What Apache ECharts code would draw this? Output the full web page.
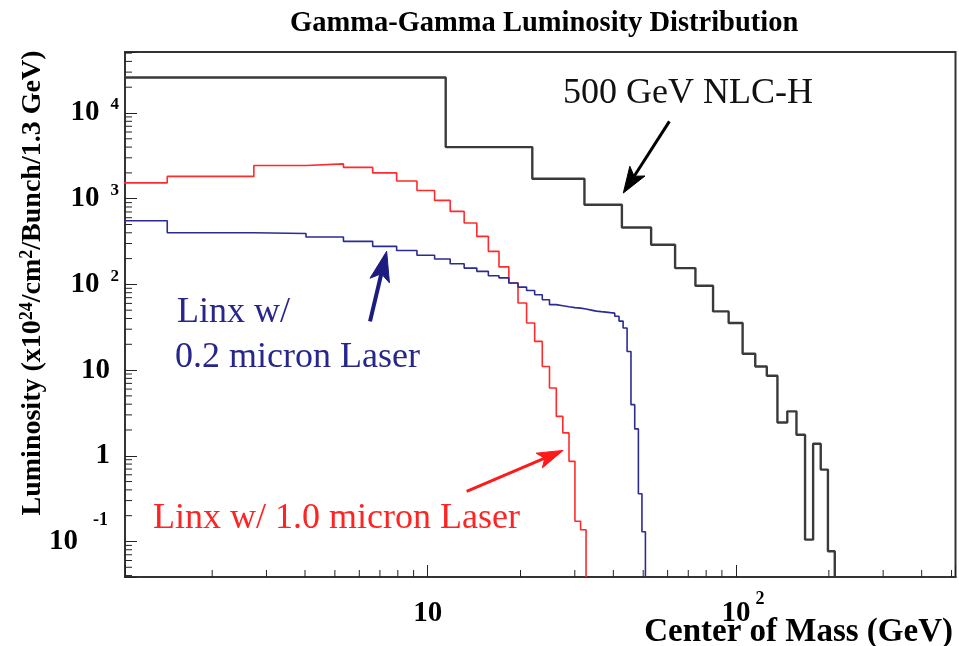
<!DOCTYPE html>
<html>
<head>
<meta charset="utf-8">
<title>Gamma-Gamma Luminosity Distribution</title>
<script src="https://cdn.jsdelivr.net/npm/echarts@6/dist/echarts.min.js"></script>
<style>
  html, body { margin: 0; padding: 0; background: #fff; }
  #chart { width: 959px; height: 646px; }
</style>
</head>
<body>
<div id="chart"></div>
<script>
// ---- axis ranges (log scales) ----
const xRange = [1.043, 515];
const yRange = [0.0385, 51500];

// ---- tick values ----
const xMinorTicks = [2, 3, 4, 5, 6, 7, 8, 9, 20, 30, 40, 50, 60, 70, 80, 90, 200, 300, 400, 500];
const yMinorTicks = [0.04, 0.05, 0.06, 0.07, 0.08, 0.09,
  0.2, 0.3, 0.4, 0.5, 0.6, 0.7, 0.8, 0.9,
  2, 3, 4, 5, 6, 7, 8, 9,
  20, 30, 40, 50, 60, 70, 80, 90,
  200, 300, 400, 500, 600, 700, 800, 900,
  2000, 3000, 4000, 5000, 6000, 7000, 8000, 9000,
  20000, 30000, 40000, 50000];
// tick label text per decade exponent: [base, superscript]
const xTickLabels = { 1: ['10', ''], 2: ['10', '2'] };
const yTickLabels = { '-1': ['10', '-1'], 0: ['1', ''], 1: ['10', ''], 2: ['10', '2'], 3: ['10', '3'], 4: ['10', '4'] };

// ---- 500 GeV NLC-H (bins of 10.4 GeV) ----
const nlcEdges = [1.04, 11.44, 21.84, 32.24, 42.64, 53.04, 63.44, 73.84, 84.24, 94.64, 105.04,
  115.44, 125.84, 136.24, 146.64, 157.04, 167.44, 177.84, 188.24, 198.64, 209.04];
const nlcValues = [26000, 4000, 1710, 851, 462, 290, 155, 96.6, 48.4, 35.5,
  15.5, 11.0, 8.6, 2.45, 3.30, 1.76, 0.105, 1.38, 0.69, 0.077];

// ---- Linx bins of 1.3 GeV ----
const linxEdges = [0.13, 1.43, 2.73, 4.03, 5.33, 6.63, 7.93, 9.23, 10.53, 11.83, 13.13, 14.43,
  15.73, 17.03, 18.33, 19.63, 20.93, 22.23, 23.53, 24.83, 26.13, 27.43, 28.73, 30.03, 31.33,
  32.63, 33.93, 35.23, 36.53, 37.83, 39.13, 40.43, 41.73, 43.03, 44.33, 45.63, 46.93, 48.23,
  49.53, 50.83];
// Linx w/ 1.0 micron laser
const linx10Values = [1530, 1820, 2440, 2550, 2320, 2000, 1610, 1245, 955, 711, 520, 363, 243,
  160, 104, 60.7, 35.5, 21.6, 11.0, 6.18, 2.88, 1.85, 0.861, 0.172, 0.137];
// Linx w/ 0.2 micron laser
const linx02Values = [553, 400, 392, 357, 318, 278, 249, 219, 198, 174, 155, 142, 126, 119, 104,
  93, 85, 75.8, 66.3, 58, 56.4, 54.8, 53.6, 52.9, 51.5, 50.1, 48.8, 48.1, 47.5, 46.8, 46.2,
  42.4, 37.3, 31.0, 16.5, 3.95, 2.06, 0.36, 0.13];

// ---- annotation arrows: [tailX, tailY, headX, headY] in data coordinates ----
const nlcArrow = [60.8, 7980, 43.1, 1165];
const linx02Arrow = [6.50, 37.0, 7.36, 243];
const linx10Arrow = [13.38, 0.384, 27.5, 1.156];

const SERIF = '"Liberation Serif", "Times New Roman", Times, serif';

// histogram outline: left edge of each bin, closing edge, then drop to the axis floor
function histPoints(edges, values) {
  const pts = values.map((v, i) => [edges[i], v]);
  const last = values.length;
  pts.push([edges[last], values[last - 1]]);
  pts.push([edges[last], yRange[0]]);
  return pts;
}

function exponentOf(v) {
  const e = Math.log10(v);
  const n = Math.round(e);
  return Math.abs(e - n) < 1e-6 ? n : null;
}

function xLabel(v) {
  const n = exponentOf(v);
  if (n === null || !xTickLabels[n]) return '';
  const [b, s] = xTickLabels[n];
  return s ? '{xbp|' + b + '}{xs|' + s + '}' : '{xb|' + b + '}';
}

function yLabel(v) {
  const n = exponentOf(v);
  if (n === null || !yTickLabels[n]) return '';
  const [b, s] = yTickLabels[n];
  if (!s) return '{p|' + b + '}';
  if (n < 0) return '{bn|' + b + '}{sn|' + s + '}';
  return '{b|' + b + '}{s|' + s + '}';
}

// minor ticks drawn inward from the left / bottom axis
function tickRenderer(axis) {
  return function (params, api) {
    const p = api.coord([api.value(0), api.value(1)]);
    const len = 7;
    const shape = axis === 'y'
      ? { x1: p[0], y1: p[1], x2: p[0] + len, y2: p[1] }
      : { x1: p[0], y1: p[1], x2: p[0], y2: p[1] - len };
    return { type: 'line', shape: shape, style: { stroke: '#222', lineWidth: 1 } };
  };
}

// annotation arrow: shaft plus a notched, filled head placed through the axes
function arrowSeries(arrow, color, width, headLen, headHalf, notch) {
  return {
    type: 'custom', coordinateSystem: 'cartesian2d', silent: true, clip: false, z: 8,
    data: [arrow],
    renderItem: function (params, api) {
      const a = api.coord([api.value(0), api.value(1)]);
      const b = api.coord([api.value(2), api.value(3)]);
      const dx = b[0] - a[0], dy = b[1] - a[1];
      const L = Math.sqrt(dx * dx + dy * dy);
      const ux = dx / L, uy = dy / L, nx = -uy, ny = ux;
      const back = [b[0] - ux * headLen, b[1] - uy * headLen];
      const inner = [b[0] - ux * (headLen - notch), b[1] - uy * (headLen - notch)];
      return {
        type: 'group',
        children: [
          { type: 'line', shape: { x1: a[0], y1: a[1], x2: inner[0], y2: inner[1] },
            style: { stroke: color, lineWidth: width } },
          { type: 'polygon', shape: { points: [
              b,
              [back[0] + nx * headHalf, back[1] + ny * headHalf],
              inner,
              [back[0] - nx * headHalf, back[1] - ny * headHalf]
            ] }, style: { fill: color, stroke: color, lineWidth: 1 } }
        ]
      };
    }
  };
}

const digit = { fontFamily: SERIF, fontWeight: 'bold', color: '#000' };

const chart = echarts.init(document.getElementById('chart'), null, { renderer: 'canvas' });
chart.setOption({
  animation: false,
  backgroundColor: '#fff',
  grid: {
    left: 125, right: 3.5, top: 52, bottom: 69,
    show: true, borderColor: '#333', borderWidth: 2, backgroundColor: 'transparent'
  },
  xAxis: {
    type: 'log', logBase: 10, min: xRange[0], max: xRange[1],
    axisLine: { show: true, onZero: false, lineStyle: { color: '#333', width: 2 } },
    axisTick: { show: true, inside: true, length: 12, lineStyle: { color: '#222', width: 1 } },
    minorTick: { show: false },
    splitLine: { show: false },
    axisLabel: {
      margin: 13, formatter: xLabel,
      rich: {
        xb: Object.assign({ fontSize: 29, lineHeight: 47 }, digit),
        xbp: Object.assign({ fontSize: 29, lineHeight: 47, padding: [0, 0, 0, 14] }, digit),
        xs: Object.assign({ fontSize: 18, lineHeight: 17, verticalAlign: 'top', padding: [0, 0, 0, 5] }, digit)
      }
    }
  },
  yAxis: {
    type: 'log', logBase: 10, min: yRange[0], max: yRange[1],
    axisLine: { show: true, onZero: false, lineStyle: { color: '#333', width: 2 } },
    axisTick: { show: true, inside: true, length: 12, lineStyle: { color: '#222', width: 1 } },
    minorTick: { show: false },
    splitLine: { show: false },
    axisLabel: {
      margin: 6, formatter: yLabel,
      rich: {
        p: Object.assign({ fontSize: 29, lineHeight: 29, padding: [0, 9, 0, 0] }, digit),
        b: Object.assign({ fontSize: 29, lineHeight: 33 }, digit),
        s: Object.assign({ fontSize: 17, lineHeight: 17, verticalAlign: 'top', padding: [0, 0, 0, 11] }, digit),
        bn: Object.assign({ fontSize: 29, lineHeight: 60 }, digit),
        sn: Object.assign({ fontSize: 18, lineHeight: 18, verticalAlign: 'top', padding: [0, 11, 0, 15] }, digit)
      }
    }
  },
  series: [
    {
      name: '500 GeV NLC-H', type: 'line', step: 'end', symbol: 'none', clip: true,
      data: histPoints(nlcEdges, nlcValues),
      lineStyle: { color: '#3a3a3a', width: 2.4 },
      z: 3
    },
    {
      name: 'Linx w/ 1.0 micron Laser', type: 'line', step: 'end', symbol: 'none', clip: true,
      data: histPoints(linxEdges, linx10Values),
      lineStyle: { color: '#ff2b2b', width: 1.6 },
      z: 4
    },
    {
      name: 'Linx w/ 0.2 micron Laser', type: 'line', step: 'end', symbol: 'none', clip: true,
      data: histPoints(linxEdges, linx02Values),
      lineStyle: { color: '#2b2b94', width: 1.6 },
      z: 5
    },
    {
      type: 'custom', coordinateSystem: 'cartesian2d', silent: true, clip: false,
      data: yMinorTicks.map(v => [xRange[0], v]),
      renderItem: tickRenderer('y'), z: 6
    },
    {
      type: 'custom', coordinateSystem: 'cartesian2d', silent: true, clip: false,
      data: xMinorTicks.map(v => [v, yRange[0]]),
      renderItem: tickRenderer('x'), z: 6
    },
    arrowSeries(nlcArrow, '#000', 3, 26, 9, 6),
    arrowSeries(linx02Arrow, '#1c1c80', 4, 30, 10, 7),
    arrowSeries(linx10Arrow, '#ff1a1a', 3, 26, 8, 6)
  ],
  graphic: [
    {
      type: 'text', x: 290, y: 24, silent: true,
      style: { text: 'Gamma-Gamma Luminosity Distribution', font: 'bold 28.5px ' + SERIF,
        fill: '#000', align: 'left', verticalAlign: 'middle' }
    },
    {
      type: 'text', x: 953, y: 632, silent: true,
      style: { text: 'Center of Mass (GeV)', font: 'bold 33px ' + SERIF,
        fill: '#000', align: 'right', verticalAlign: 'middle' }
    },
    {
      type: 'text', x: 33, y: 283, rotation: Math.PI / 2, silent: true,
      style: {
        text: '{n|Luminosity (x10}{s|24}{n|/cm}{s|2}{n|/Bunch/1.3 GeV)}',
        align: 'center', verticalAlign: 'middle',
        rich: {
          n: { fontFamily: SERIF, fontWeight: 'bold', fontSize: 28, lineHeight: 30, fill: '#000' },
          s: { fontFamily: SERIF, fontWeight: 'bold', fontSize: 18, lineHeight: 18, verticalAlign: 'top', fill: '#000' }
        }
      }
    },
    {
      type: 'text', x: 563, y: 94, silent: true,
      style: { text: '500 GeV NLC-H', font: '36px ' + SERIF, fill: '#111', align: 'left', verticalAlign: 'middle' }
    },
    {
      type: 'text', x: 177, y: 313, silent: true,
      style: { text: 'Linx w/', font: '36px ' + SERIF, fill: '#26268c', align: 'left', verticalAlign: 'middle' }
    },
    {
      type: 'text', x: 175, y: 358, silent: true,
      style: { text: '0.2 micron Laser', font: '36px ' + SERIF, fill: '#26268c', align: 'left', verticalAlign: 'middle' }
    },
    {
      type: 'text', x: 153, y: 519, silent: true,
      style: { text: 'Linx w/ 1.0 micron Laser', font: '36px ' + SERIF, fill: '#ff2424', align: 'left', verticalAlign: 'middle' }
    }
  ]
});
</script>
</body>
</html>
